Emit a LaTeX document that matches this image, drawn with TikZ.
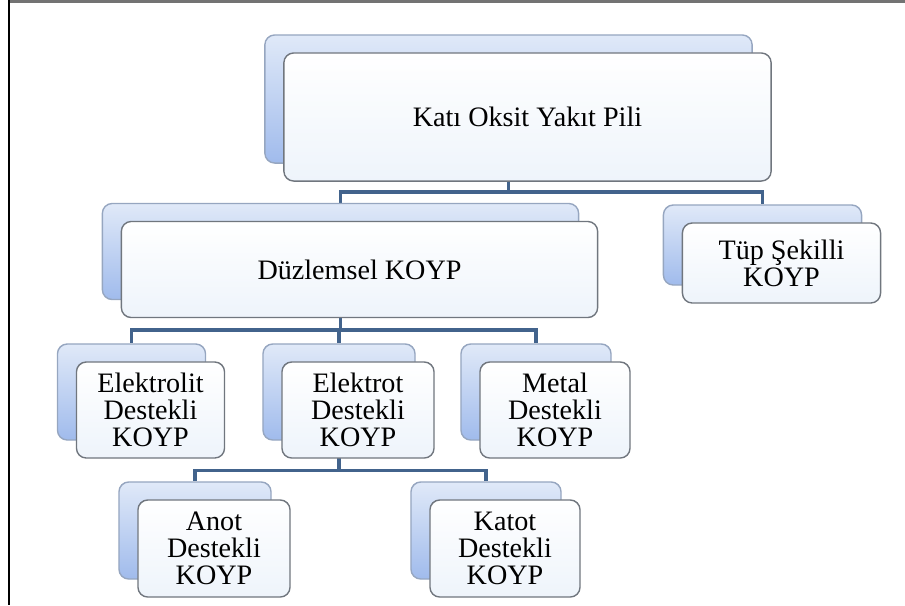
\documentclass[tikz,border=0pt]{standalone}
\usepackage{fontspec}
\setmainfont{Liberation Serif}
\usetikzlibrary{backgrounds}

\definecolor{hatrenk}{RGB}{66,99,140}
\definecolor{arkaust}{RGB}{224,233,248}
\definecolor{arkaalt}{RGB}{160,187,236}
\definecolor{arkacizgi}{RGB}{150,166,192}
\definecolor{oncizgi}{RGB}{112,118,126}
\definecolor{onalt}{RGB}{238,244,251}

\tikzset{
  arka/.style={draw=arkacizgi, rounded corners=2.8pt, top color=arkaust, bottom color=arkaalt, inner sep=0pt},
  on/.style={draw=oncizgi, rounded corners=2.8pt, top color=white, bottom color=onalt, inner sep=0pt, align=center, font=\fontsize{8}{7.7}\selectfont},
  hat/.style={draw=hatrenk, line width=0.9pt}
}

\begin{document}
\begin{tikzpicture}[x=0.01cm, y=-0.01cm]
\useasboundingbox (0,0) rectangle (905,605);
\draw[black!55, line width=0.6pt] (9,1.5) -- (905,1.5); \draw[black, line width=0.5pt] (9,0) -- (9,605);

% ust seviye
\node[arka, minimum width=4.87cm, minimum height=1.28cm] (kopA) at (508.5,99) {};
\node[on, minimum width=4.87cm, minimum height=1.28cm] (kop) at (527.5,117) {Katı Oksit Yakıt Pili};

% ikinci seviye
\node[arka, minimum width=4.76cm, minimum height=0.96cm] (dzA) at (340.5,251.5) {};
\node[on, minimum width=4.76cm, minimum height=0.96cm] (dz) at (359.5,269.5) {Düzlemsel KOYP};
\node[arka, minimum width=1.98cm, minimum height=0.80cm] (tupA) at (762.5,245) {};
\node[on, minimum width=1.98cm, minimum height=0.80cm] (tup) at (781.5,263) {Tüp Şekilli\\KOYP};

% ucuncu seviye
\node[arka, minimum width=1.48cm, minimum height=0.96cm] (eltA) at (131.5,392) {};
\node[on, minimum width=1.48cm, minimum height=0.96cm] (elt) at (150.5,410) {Elektrolit\\Destekli\\KOYP};
\node[arka, minimum width=1.52cm, minimum height=0.96cm] (ekA) at (339,392) {};
\node[on, minimum width=1.52cm, minimum height=0.96cm] (ek) at (358,410) {Elektrot\\Destekli\\KOYP};
\node[arka, minimum width=1.50cm, minimum height=0.96cm] (mtA) at (536,392) {};
\node[on, minimum width=1.50cm, minimum height=0.96cm] (mt) at (555,410) {Metal\\Destekli\\KOYP};

% dorduncu seviye
\node[arka, minimum width=1.52cm, minimum height=0.97cm] (anA) at (195,530.5) {};
\node[on, minimum width=1.52cm, minimum height=0.97cm] (an) at (214,548.5) {Anot\\Destekli\\KOYP};
\node[arka, minimum width=1.50cm, minimum height=0.97cm] (ktA) at (486,530.5) {};
\node[on, minimum width=1.50cm, minimum height=0.97cm] (kt) at (505,548.5) {Katot\\Destekli\\KOYP};

% baglantilar
\coordinate (h1) at (0,192); \coordinate (h2) at (0,330); \coordinate (h3) at (0,470.5);
\begin{scope}[on background layer]
\foreach \c in {dzA,tupA} { \draw[hat] (kopA.south) -- (kopA.south |- h1) -| (\c.north); }
\foreach \c in {eltA,ekA,mtA} { \draw[hat] (dzA.south) -- (dzA.south |- h2) -| (\c.north); }
\foreach \c in {anA,ktA} { \draw[hat] (ekA.south) -- (ekA.south |- h3) -| (\c.north); }
\end{scope}
\end{tikzpicture}
\end{document}
